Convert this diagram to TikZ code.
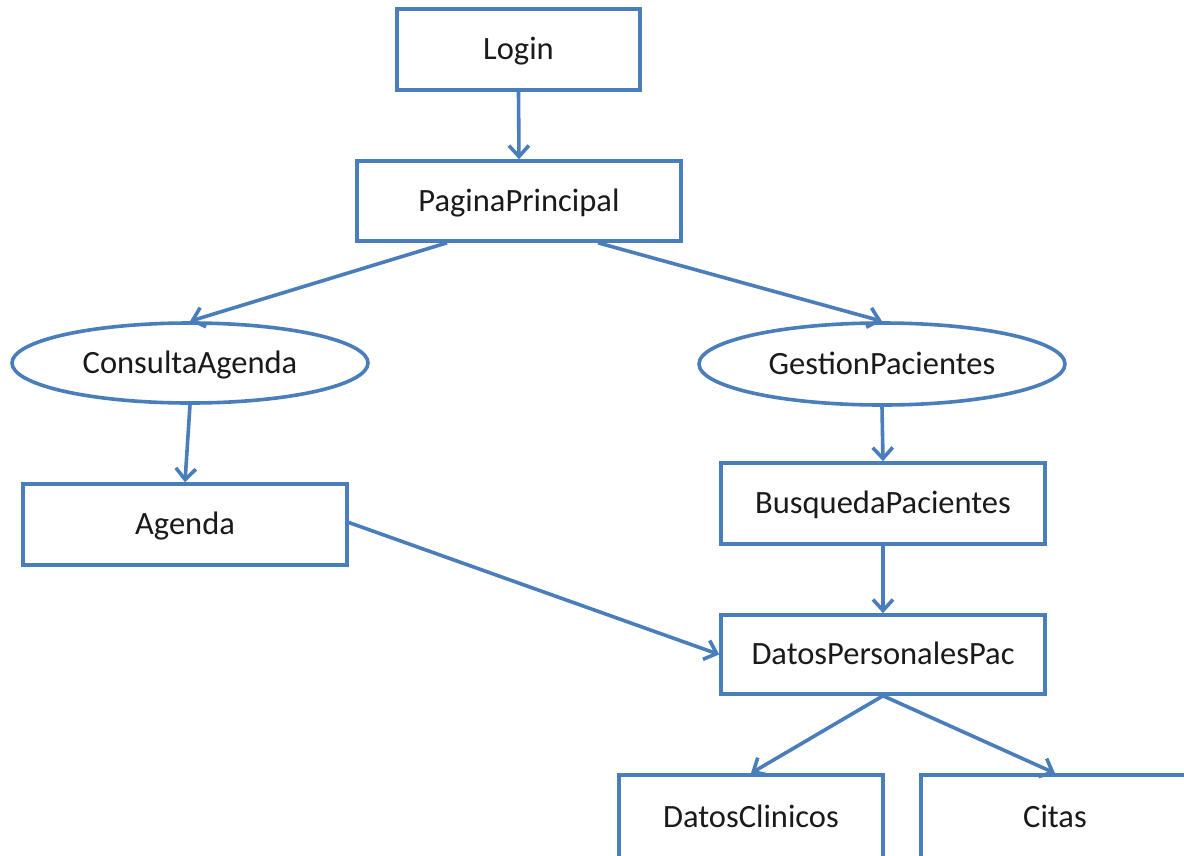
\documentclass[tikz,border=0pt]{standalone}
\usepackage{fontspec}
\setmainfont{Carlito}
\usetikzlibrary{arrows.meta,shapes.geometric}
\definecolor{lineblue}{HTML}{4A7EBB}
\definecolor{txt}{HTML}{1A1A1A}
\tikzset{
  label text/.style={text=txt, font=\fontsize{32.5}{38}\selectfont,
                     text height=25pt, text depth=5pt},
  box/.style={draw=lineblue, line width=3.6pt, fill=white, rectangle, inner sep=0pt, label text},
  oval/.style={draw=lineblue, line width=3.6pt, fill=white, ellipse, inner sep=0pt, label text},
  link/.style={draw=lineblue, line width=3.6pt,
               -{Straight Barb[length=11pt,width=20pt,line width=3.6pt]}}
}
\begin{document}
\begin{tikzpicture}[x=1pt,y=-1pt]
  \useasboundingbox (0,0) rectangle (1184,855);
  \clip (0,0) rectangle (1184,855);
  \fill[white] (0,0) rectangle (1184,855);

  % screens and modules
  \node[box, minimum width=243, minimum height=81] (login) at (518.5,49.5) {Login};
  \node[box, minimum width=324, minimum height=80] (pp) at (519,201) {PaginaPrincipal};
  \node[oval, minimum width=356, minimum height=80] (ca) at (190,363) {ConsultaAgenda};
  \node[oval, minimum width=366, minimum height=82] (gp) at (882,364) {GestionPacientes};
  \node[box, minimum width=324, minimum height=81] (ag) at (185,524.5) {Agenda};
  \node[box, minimum width=324, minimum height=81] (bp) at (883,503.5) {BusquedaPacientes};
  \node[box, minimum width=324, minimum height=79] (dp) at (883,654.5) {DatosPersonalesPac};
  \node[box, minimum width=264, minimum height=84] (dc) at (751,817) {DatosClinicos};
  \node[box, minimum width=268, minimum height=84] (ci) at (1055,817) {Citas};

  % navigation
  \draw[link] (login.south) -- (pp.north);
  \draw[link] ([xshift=-72pt]pp.south) -- (ca.north);
  \draw[link] ([xshift=79pt]pp.south) -- (gp.north);
  \draw[link] (ca.south) -- (ag.north);
  \draw[link] (gp.south) -- (bp.north);
  \draw[link] (bp.south) -- (dp.north);
  \draw[link] ([yshift=2pt]ag.east) -- (dp.west);
  \draw[link] (dp.south) -- (dc.north);
  \draw[link] (dp.south) -- (ci.north);
\end{tikzpicture}
\end{document}
